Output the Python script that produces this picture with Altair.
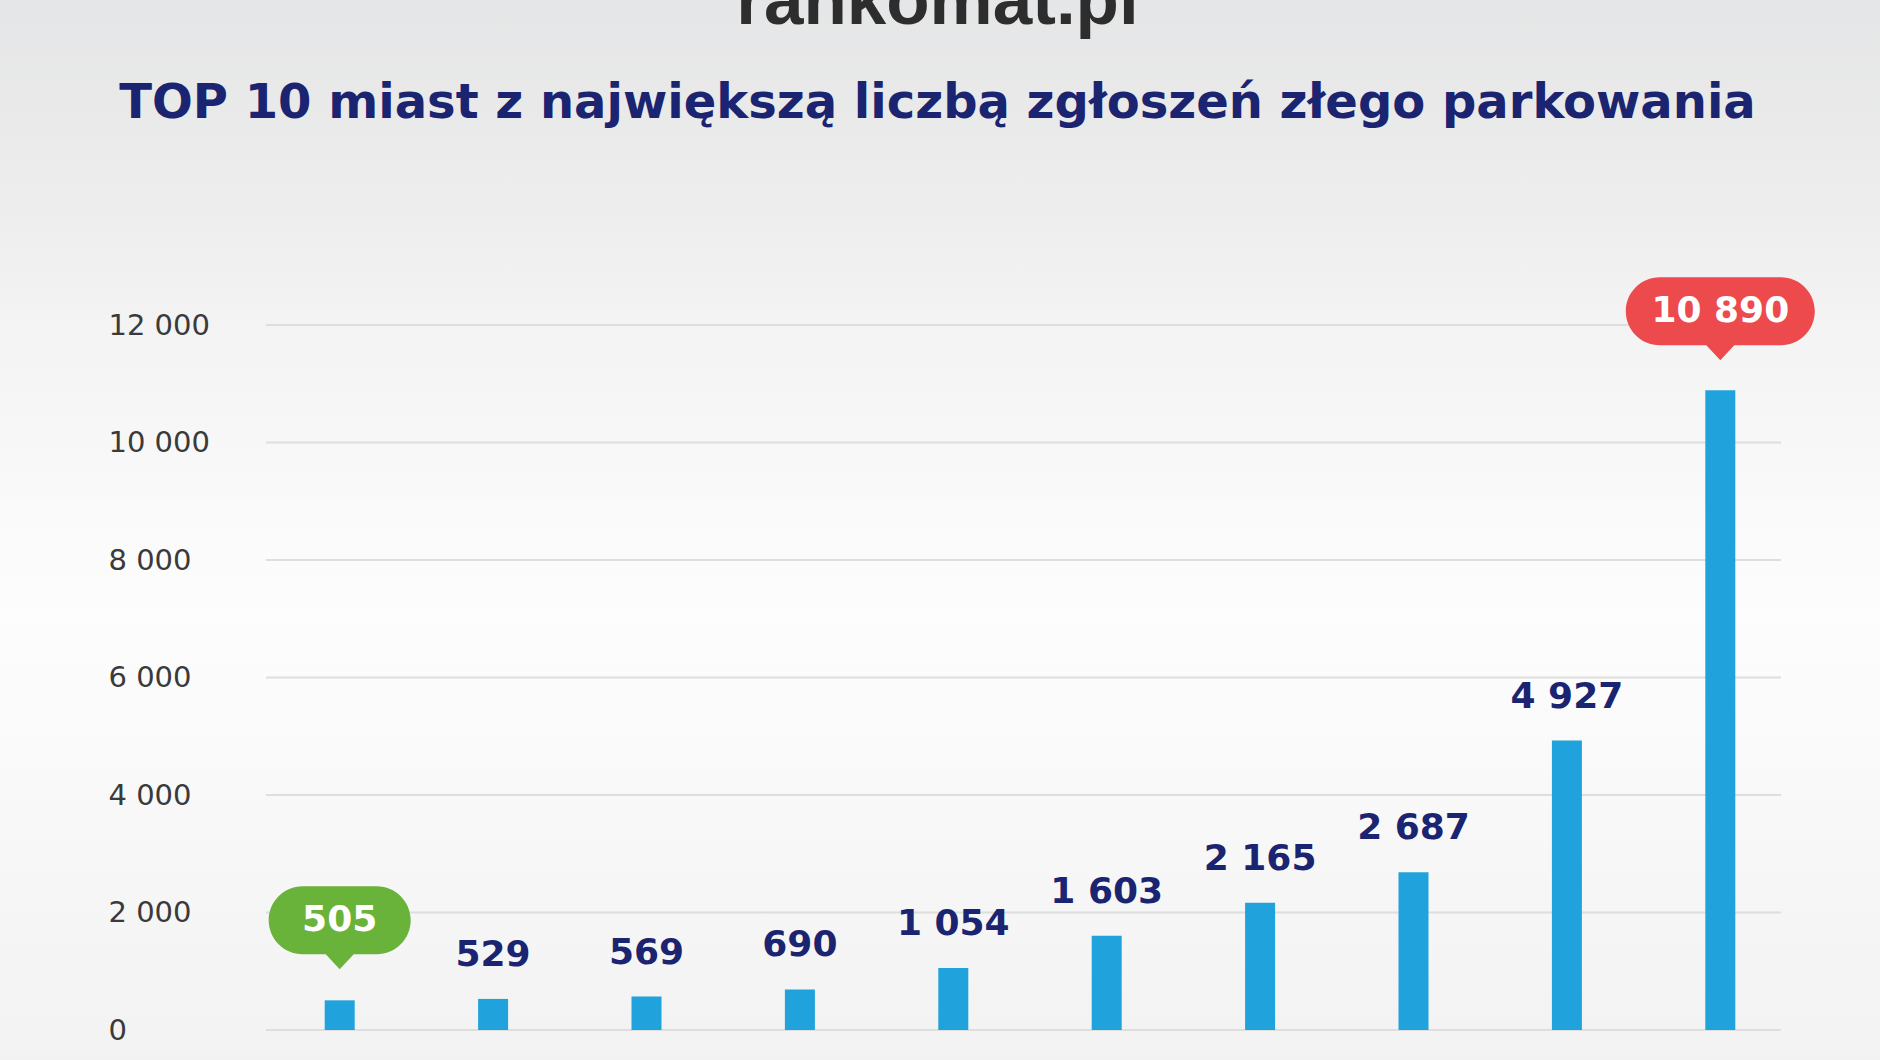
import altair as alt
import pandas as pd

# ---- data ----
positions = ["1", "2", "3", "4", "5", "6", "7", "8", "9", "10"]
values = [505, 529, 569, 690, 1054, 1603, 2165, 2687, 4927, 10890]
kinds = ["min", "normal", "normal", "normal", "normal", "normal", "normal", "normal", "normal", "max"]
y_ticks = [0, 2000, 4000, 6000, 8000, 10000, 12000]

logo_text = "rankomat.pl"
title_text = "TOP 10 miast z największą liczbą zgłoszeń złego parkowania"

labels = [f"{v:,}".replace(",", " ") for v in values]

df = pd.DataFrame({"poz": positions, "value": values, "label": labels, "kind": kinds})
grid_df = pd.DataFrame({"tick": y_ticks})
bg_df = pd.DataFrame({"a": [0]})

W, H = 1515, 705
PAD = {"left": 266, "top": 325, "right": 99, "bottom": 30}

NAVY = "#1b2470"
BLUE = "#20a3dc"
GREEN = "#69b33b"
RED = "#ec4a4c"

x_enc = alt.X(
    "poz:N",
    sort=positions,
    scale=alt.Scale(range=[-3, 1531], paddingInner=0, paddingOuter=0),
    axis=None,
)
y_scale = alt.Scale(domain=[0, 12000], nice=False)
fmt = "replace(format(datum.value, ','), ',', ' ')"
y_axis = alt.Axis(
    values=y_ticks,
    grid=False,
    domain=False,
    ticks=False,
    tickSize=0,
    labelAlign="left",
    labelBaseline="middle",
    labelPadding=158,
    labelFont="DejaVu Sans",
    labelFontSize=29,
    labelColor="#3a3a3a",
    labelExpr=fmt,
    title=None,
    zindex=2,
)


def y_of(field):
    return alt.Y(field, scale=y_scale, axis=y_axis)


background = alt.Chart(bg_df).mark_rect(
    fill=alt.Gradient(
        gradient="linear",
        x1=0, x2=0, y1=0, y2=1,
        stops=[
            alt.GradientStop(color="#e5e6e7", offset=0),
            alt.GradientStop(color="#ebebeb", offset=0.15),
            alt.GradientStop(color="#f4f4f4", offset=0.32),
            alt.GradientStop(color="#fdfdfd", offset=0.58),
            alt.GradientStop(color="#f2f2f2", offset=1),
        ],
    )
).encode(
    x=alt.value(-PAD["left"]),
    x2=alt.value(W + PAD["right"]),
    y=alt.value(-PAD["top"]),
    y2=alt.value(H + PAD["bottom"]),
)

grid = alt.Chart(grid_df).mark_rule(color="#dedede", strokeWidth=2).encode(
    y=y_of("tick:Q")
)

bars = alt.Chart(df).mark_bar(size=30, color=BLUE).encode(x=x_enc, y=y_of("value:Q"))

value_text = alt.Chart(df).transform_filter("datum.kind == 'normal'").mark_text(
    font="DejaVu Sans", fontWeight="bold", fontSize=36, color=NAVY,
    baseline="alphabetic", dy=-33,
).encode(x=x_enc, y=y_of("value:Q"), text="label:N")

red_path = ("M -0.64 -0.36 L 0.64 -0.36 A 0.36 0.36 0 0 1 0.64 0.36 "
            "L 0.148 0.36 L 0 0.52 L -0.148 0.36 L -0.64 0.36 "
            "A 0.36 0.36 0 0 1 -0.64 -0.36 Z")
green_path = ("M -0.521 -0.479 L 0.521 -0.479 A 0.479 0.479 0 0 1 0.521 0.479 "
              "L 0.197 0.479 L 0 0.69 L -0.197 0.479 L -0.521 0.479 "
              "A 0.479 0.479 0 0 1 -0.521 -0.479 Z")

max_bubble = alt.Chart(df).transform_filter("datum.kind == 'max'").mark_point(
    shape=red_path, size=189 * 189, filled=True, color=RED, opacity=1, yOffset=-79,
).encode(x=x_enc, y=y_of("value:Q"))

min_bubble = alt.Chart(df).transform_filter("datum.kind == 'min'").mark_point(
    shape=green_path, size=142 * 142, filled=True, color=GREEN, opacity=1, yOffset=-80,
).encode(x=x_enc, y=y_of("value:Q"))

max_text = alt.Chart(df).transform_filter("datum.kind == 'max'").mark_text(
    font="DejaVu Sans", fontWeight="bold", fontSize=36, color="white",
    baseline="middle", dy=-79,
).encode(x=x_enc, y=y_of("value:Q"), text="label:N")

min_text = alt.Chart(df).transform_filter("datum.kind == 'min'").mark_text(
    font="DejaVu Sans", fontWeight="bold", fontSize=36, color="white",
    baseline="middle", dy=-80,
).encode(x=x_enc, y=y_of("value:Q"), text="label:N")

chart = alt.layer(
    background, grid, bars, value_text, max_bubble, min_bubble, max_text, min_text
).properties(
    width=W,
    height=H,
    padding=PAD,
    autosize=alt.AutoSizeParams(type="none"),
    background="#eeeeee",
    title=alt.TitleParams(
        text=logo_text,
        subtitle=title_text,
        font="Liberation Sans",
        fontSize=71,
        fontWeight="bold",
        color="#2d2d2d",
        subtitleFont="DejaVu Sans",
        subtitleFontSize=48,
        subtitleFontWeight="bold",
        subtitleColor=NAVY,
        anchor="middle",
        frame="group",
        dx=-86,
        offset=-129,
        subtitlePadding=41,
        zindex=2,
    ),
).configure_view(stroke=None)

chart.save("out.html", embed_options={"renderer": "svg", "actions": False})
